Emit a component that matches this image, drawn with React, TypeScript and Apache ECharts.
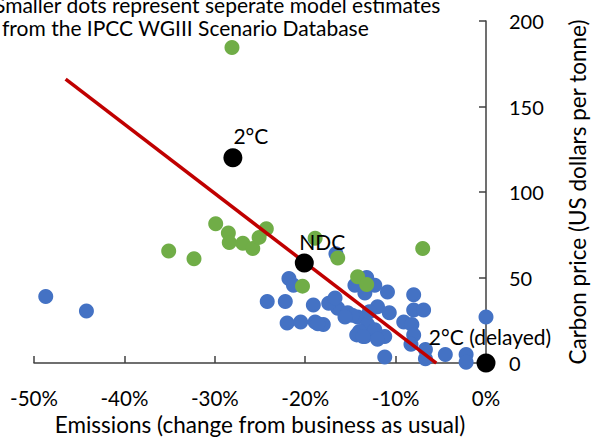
import React, { useEffect, useRef } from "react";
import * as echarts from "echarts";

const titleLines = [
  "Smaller dots represent seperate model estimates",
  "from the IPCC WGIII Scenario Database",
];
const xAxisName = "Emissions (change from business as usual)";
const yAxisName = "Carbon price (US dollars per tonne)";

// Blue: model estimates (emissions %, carbon price $)
const blueDots: [number, number][] = [
  [-48.7, 39], [-44.2, 30.5], [-24.2, 36], [-22.2, 36], [-22.0, 23.5], [-20.5, 24],
  [-21.8, 49.5], [-21.3, 45.5], [-19.1, 34], [-18.9, 24], [-18.0, 22.5], [-18.6, 23],
  [-16.6, 64], [-16.9, 35.5], [-16.4, 32], [-15.3, 29.5], [-14.2, 27], [-14.5, 45.5],
  [-13.4, 41], [-13.2, 50], [-12.3, 45.5], [-10.9, 41.5], [-8.0, 40], [-12.0, 33],
  [-10.7, 29.5], [-8.0, 31], [-6.9, 31], [-9.1, 24], [-8.2, 22.5], [-8.0, 16.5],
  [-8.3, 11], [-6.7, 8], [-6.7, 2.5], [-11.2, 3.5], [-4.5, 5], [-2.2, 5], [-2.2, 0.5],
  [0, 27], [-12.6, 18.5], [-11.2, 15.5], [-13.1, 22.5], [-14.0, 18.5], [-13.4, 15.5],
  [-14.8, 28], [-15.6, 27], [-17.4, 35], [-16.7, 38], [-12.9, 30], [-12.3, 19.5],
  [-14.3, 16.5], [-13.6, 15.5], [-12.0, 14],
];

// Green: model estimates
const greenDots: [number, number][] = [
  [-28.1, 184.5], [-29.9, 81.5], [-28.5, 76], [-28.4, 70.5], [-26.9, 70], [-25.8, 67],
  [-25.1, 73.5], [-24.3, 78.5], [-32.3, 61], [-35.1, 65.5], [-18.9, 73], [-16.4, 61.5],
  [-7.0, 67], [-14.2, 50.5], [-13.2, 46], [-20.3, 45],
];

// Black labelled scenarios
const scenarioNames = ["2°C", "NDC", "2°C (delayed)"];
const scenarioX = [-28, -20.1, 0];
const scenarioY = [120, 58.5, 0];

// Red trend line endpoints
const trendX = [-46.5, -5.5];
const trendY = [166, 0];

const xTicks = { min: -50, max: 0, interval: 10 };
const yTicks = { min: 0, max: 200, interval: 50 };

const FONT = "Lato";

export default function App() {
  const ref = useRef<HTMLDivElement>(null);
  useEffect(() => {
    if (!ref.current) return;
    const chart = echarts.init(ref.current, null, { renderer: "svg" });
    const labelOffsets: [number, number][] = [[18, 3], [18, 3], [4, -2]];
    chart.setOption({
      animation: false,
      backgroundColor: "#ffffff",
      textStyle: { fontFamily: FONT },
      grid: { left: 34, right: 104, top: 21, bottom: 72 },
      graphic: [
        {
          type: "text",
          left: -6,
          top: -6,
          style: { text: titleLines[0], fontSize: 21, fontFamily: FONT, fill: "#000" },
        },
        {
          type: "text",
          left: 2,
          top: 17,
          style: { text: titleLines[1], fontSize: 21, fontFamily: FONT, fill: "#000" },
        },
      ],
      xAxis: {
        type: "value",
        min: xTicks.min,
        max: xTicks.max,
        interval: xTicks.interval,
        name: xAxisName,
        nameLocation: "middle",
        nameGap: 46,
        nameTextStyle: { fontSize: 22.5, color: "#000", fontFamily: FONT },
        axisLine: { onZero: false, lineStyle: { color: "#404040", width: 1.5 } },
        axisTick: { inside: true, length: 7, lineStyle: { color: "#404040", width: 1.5 } },
        axisLabel: {
          formatter: (v: number) => `${v}%`,
          fontSize: 20.5,
          color: "#000",
          margin: 24,
        },
        splitLine: { show: false },
      },
      yAxis: {
        type: "value",
        position: "right",
        min: yTicks.min,
        max: yTicks.max,
        interval: yTicks.interval,
        name: yAxisName,
        nameLocation: "middle",
        nameRotate: 90,
        nameGap: 80,
        nameTextStyle: { fontSize: 22.5, color: "#000", fontFamily: FONT },
        axisLine: { show: true, onZero: false, lineStyle: { color: "#404040", width: 1.5 } },
        axisTick: { show: true, inside: true, length: 7, lineStyle: { color: "#404040", width: 1.5 } },
        axisLabel: { fontSize: 20, color: "#000", margin: 23 },
        splitLine: { show: false },
      },
      series: [
        {
          type: "scatter",
          data: blueDots,
          symbolSize: 15,
          itemStyle: { color: "#4472C4", opacity: 1 },
          z: 2,
        },
        {
          type: "scatter",
          data: greenDots,
          symbolSize: 15,
          itemStyle: { color: "#70AD47", opacity: 1 },
          z: 3,
        },
        {
          type: "line",
          data: trendX.map((x, i) => [x, trendY[i]]),
          showSymbol: false,
          symbol: "none",
          lineStyle: { color: "#C00000", width: 3.5 },
          z: 4,
        },
        {
          type: "scatter",
          data: scenarioNames.map((n, i) => ({
            name: n,
            value: [scenarioX[i], scenarioY[i]],
            label: {
              show: true,
              position: "top",
              offset: labelOffsets[i],
              formatter: n,
              fontSize: 21,
              color: "#000",
              fontFamily: FONT,
            },
          })),
          symbolSize: 19,
          itemStyle: { color: "#000", opacity: 1 },
          z: 5,
        },
      ],
    });
    return () => chart.dispose();
  }, []);
  return (
    <div
      ref={ref}
      style={{ position: "absolute", left: 0, top: 0, width: 597, height: 441 }}
    />
  );
}
